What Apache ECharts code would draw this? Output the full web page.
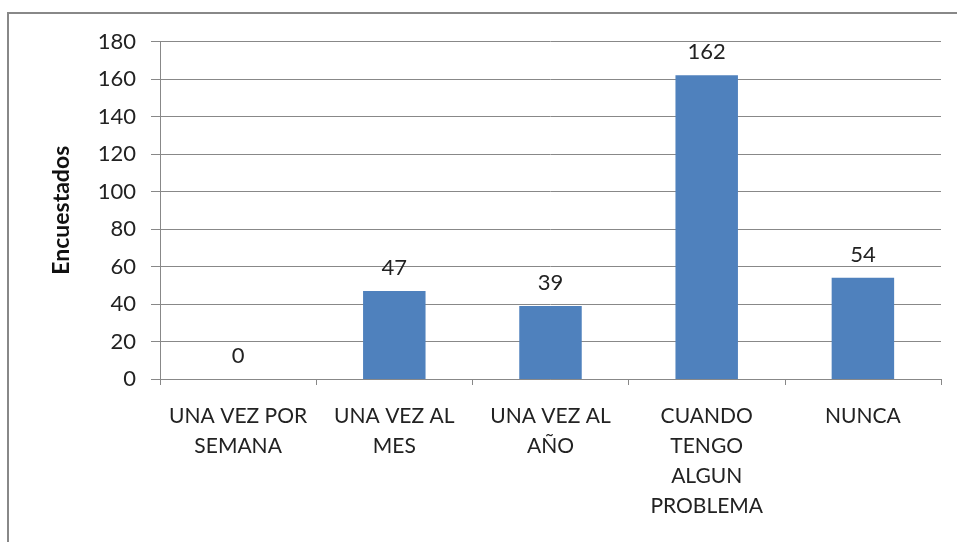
<!DOCTYPE html>
<html>
<head>
<meta charset="utf-8">
<script src="https://cdn.jsdelivr.net/npm/echarts@6/dist/echarts.min.js"></script>
<style>
  html, body { margin: 0; padding: 0; background: #fff; }
  #chart { width: 957px; height: 542px; }
</style>
</head>
<body>
<div id="chart"></div>
<script>
  // datos de la encuesta
  var categorias = ['UNA VEZ POR\nSEMANA', 'UNA VEZ AL\nMES', 'UNA VEZ AL\nAÑO', 'CUANDO\nTENGO\nALGUN\nPROBLEMA', 'NUNCA'];
  var encuestados = [0, 47, 39, 162, 54];
  var ejeMax = 180;
  var ejePaso = 20;

  var fuente = 'Lato, "Open Sans", sans-serif';
  var myChart = echarts.init(document.getElementById('chart'));
  myChart.setOption({
    animation: false,
    textStyle: { fontFamily: fuente },
    graphic: [{
      type: 'rect',
      shape: { x: 8, y: 13, width: 1100, height: 700 },
      style: { fill: 'none', stroke: '#888', lineWidth: 2 },
      silent: true
    }],
    grid: { left: 160, right: 16, top: 41.5, bottom: 163 },
    xAxis: {
      type: 'category',
      data: categorias,
      axisLine: { lineStyle: { color: '#888', width: 1 } },
      axisTick: { show: true, length: 6, alignWithLabel: false, lineStyle: { color: '#888' } },
      axisLabel: {
        interval: 0,
        margin: 22,
        color: '#222',
        fontSize: 21,
        lineHeight: 30,
        fontFamily: fuente
      }
    },
    yAxis: {
      type: 'value',
      min: 0,
      max: ejeMax,
      interval: ejePaso,
      name: 'Encuestados',
      nameLocation: 'middle',
      nameGap: 87,
      nameRotate: 90,
      nameTextStyle: { color: '#111', fontSize: 23, fontWeight: 'bold', fontFamily: fuente },
      axisLine: { show: true, lineStyle: { color: '#888', width: 1 } },
      axisTick: { show: true, length: 9, lineStyle: { color: '#888' } },
      splitLine: { lineStyle: { color: '#888', width: 1 } },
      axisLabel: { margin: 24, color: '#222', fontSize: 22, fontFamily: fuente }
    },
    series: [{
      type: 'bar',
      data: encuestados,
      barWidth: '40%',
      itemStyle: { color: '#4F81BD' },
      label: {
        show: true,
        position: 'top',
        distance: 12,
        color: '#222',
        fontSize: 22,
        fontFamily: fuente
      }
    }]
  });
  window.onresize = function () { myChart.resize(); };
</script>
</body>
</html>
